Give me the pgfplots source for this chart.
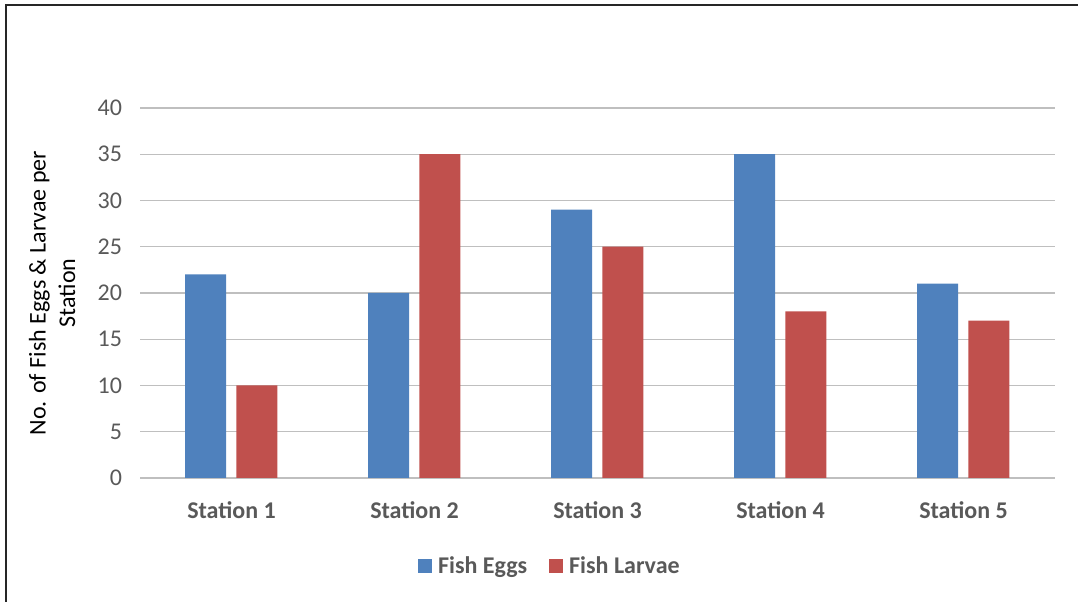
\documentclass[border=0pt]{standalone}
\usepackage{pgfplots}
\pgfplotsset{compat=1.18}
\usepackage{fontspec}
\setmainfont{Carlito}
\definecolor{eggs}{HTML}{4F81BD}
\definecolor{larvae}{HTML}{C0504D}
\definecolor{txt}{HTML}{595959}
\definecolor{grid}{HTML}{D9D9D9}
\begin{document}
\begin{tikzpicture}
\path[use as bounding box] (0,0) rectangle (808.5pt,451.5pt);
\draw[line width=1.4pt, black!85] (4.5pt,-2pt) -- (4.5pt,447.75pt) -- (812pt,447.75pt);
\begin{axis}[
  at={(105pt,93pt)}, anchor=south west,
  scale only axis, width=686.25pt, height=277.5pt,
  xmin=-0.5, xmax=4.5, ymin=0, ymax=40,
  ytick={0,5,...,40},
  xtick={0,1,2,3,4},
  xticklabels={Station 1,Station 2,Station 3,Station 4,Station 5},
  axis line style={draw=none},
  xtick style={draw=none}, ytick style={draw=none},
  major tick length=0pt,
  xmajorgrids=false,
  ymajorgrids, grid style={grid, line width=1.1pt},
  tick label style={font=\fontsize{18}{21.6}\selectfont, text=txt},
  xticklabel style={font=\fontsize{18}{21.6}\selectfont\bfseries, yshift=-14pt},
  yticklabel style={xshift=-10pt},
  /pgf/number format/assume math mode=true,
  ylabel={No. of Fish Eggs \& Larvae per\\Station},
  ylabel style={font=\fontsize{18}{22}\selectfont, align=center, at={(axis description cs:-0.096,0.5)}, anchor=center},
  ybar, bar width=0.224,
  legend columns=2,
  legend style={draw=none, at={(axis description cs:0.448,-0.238)}, anchor=center,
    font=\fontsize{18}{21.6}\selectfont\bfseries, text=txt,
    /tikz/every odd column/.append style={column sep=3pt},
    /tikz/every even column/.append style={column sep=14pt}},
  legend image code/.code={\fill[#1] (0pt,-5.5pt) rectangle (10.5pt,5pt);},
  clip=false,
]
\addplot[fill=eggs, draw=none, bar shift=-0.142] coordinates {(0,22) (1,20) (2,29) (3,35) (4,21)};
\addplot[fill=larvae, draw=none, bar shift=0.138] coordinates {(0,10) (1,35) (2,25) (3,18) (4,17)};
\legend{Fish Eggs, Fish Larvae}
\end{axis}
\end{tikzpicture}
\end{document}
